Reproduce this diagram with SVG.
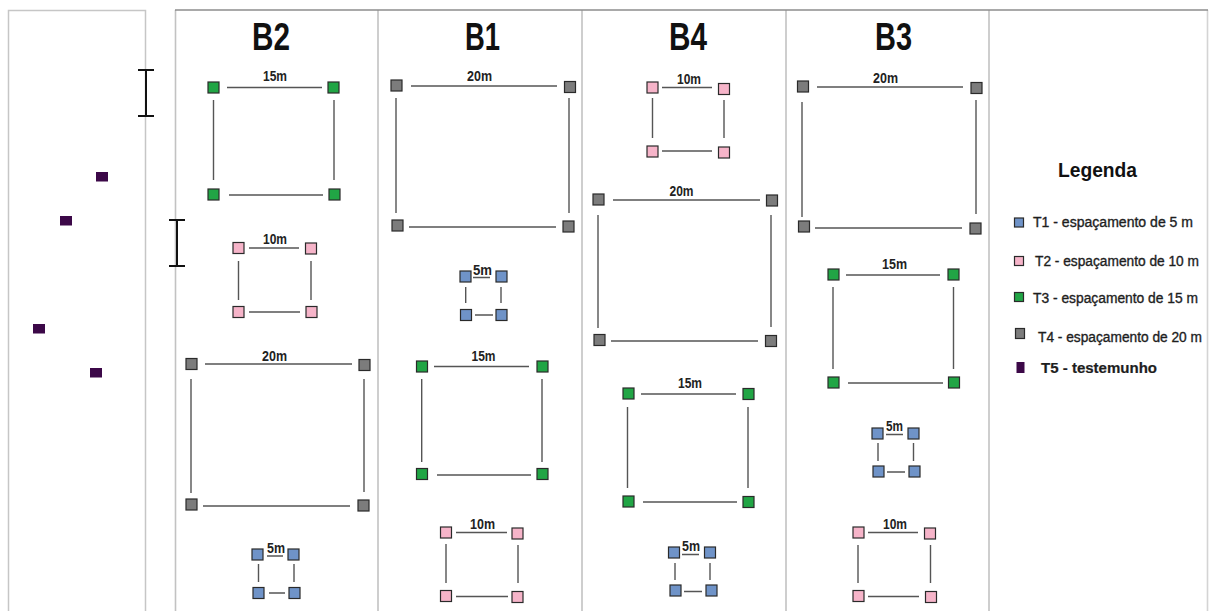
<svg xmlns="http://www.w3.org/2000/svg" width="1210" height="611" viewBox="0 0 1210 611">
<style>
.panel{fill:#ffffff;stroke:#c6c6c6;stroke-width:1.5}
.divider{stroke:#c2c2c2;stroke-width:1.6;fill:none}
.topb{stroke:#8c8c8c;stroke-width:1.6;fill:none}
.ibar{stroke:#111;stroke-width:2;fill:none}
.m{stroke:#2a2a2a;stroke-width:1.2}
.t1{fill:#6f93c8}
.t2{fill:#f6b4c9}
.t3{fill:#21a545}
.t4{fill:#7c7c7c}
.t5{fill:#3c0848;stroke:#3c0848}
.edge{stroke:#555;stroke-width:1.4;fill:none}
.title{font-family:"Liberation Sans",Arial,sans-serif;font-weight:bold;font-size:38px;fill:#111;text-anchor:middle}
.lab{font-family:"Liberation Sans",Arial,sans-serif;font-weight:bold;font-size:14px;fill:#222;text-anchor:middle}
.leg{font-family:"Liberation Sans",Arial,sans-serif;font-size:14px;fill:#1e1e1e;stroke:#1e1e1e;stroke-width:0.35}
.legh{font-family:"Liberation Sans",Arial,sans-serif;font-weight:bold;font-size:20px;fill:#111;text-anchor:middle}
</style>
<rect x="0" y="0" width="1210" height="611" fill="#ffffff"/>

<!-- panels -->
<g id="panels">
  <rect class="panel" x="8.5" y="10.5" width="137" height="700"/>
  <line class="divider" x1="175.5" y1="10" x2="175.5" y2="611"/>
  <line class="divider" x1="378" y1="10" x2="378" y2="611"/>
  <line class="divider" x1="582" y1="10" x2="582" y2="611"/>
  <line class="divider" x1="786" y1="10" x2="786" y2="611"/>
  <line class="divider" x1="989" y1="10" x2="989" y2="611"/>
  <line class="divider" x1="1207.5" y1="10" x2="1207.5" y2="611" style="stroke:#d4d4d4"/>
  <line class="topb" x1="175" y1="10" x2="1208" y2="10"/>
</g>

<!-- scale bars -->
<g id="scalebars">
  <path class="ibar" d="M146 70V116M138 70H154M138 116H154"/>
  <path class="ibar" d="M177 220V266M169 220H185M169 266H185"/>
</g>

<!-- witness points -->
<g id="T5-points">
  <rect class="t5" x="96.5" y="172.5" width="11" height="8.5"/>
  <rect class="t5" x="60.5" y="216.5" width="11" height="8.5"/>
  <rect class="t5" x="33.5" y="324.5" width="11" height="8.5"/>
  <rect class="t5" x="90.5" y="368.5" width="11" height="8.5"/>
</g>

<!-- titles -->
<g id="titles">
  <text class="title" x="271" y="50" textLength="38" lengthAdjust="spacingAndGlyphs">B2</text>
  <text class="title" x="482.5" y="50" textLength="35" lengthAdjust="spacingAndGlyphs">B1</text>
  <text class="title" x="688" y="50" textLength="38" lengthAdjust="spacingAndGlyphs">B4</text>
  <text class="title" x="893.5" y="50" textLength="37" lengthAdjust="spacingAndGlyphs">B3</text>
</g>

<!-- connectors -->
<g id="connectors">
  <path class="edge" d="M227 87.5H322M229 195H323M213.5 100V180M334 100V180"/>
  <path class="edge" d="M249 248H299M249 312H300M238.5 261V300M311 261V300"/>
  <path class="edge" d="M205 364H352M203 506H350M191 379V493M364 379V492"/>
  <path class="edge" d="M267 556H283M269 593H285M258.5 564V582M294 564V582"/>
  <path class="edge" d="M411 86H557M409 227H556M396 98V213M569 98V213"/>
  <path class="edge" d="M473 277.5H490M475 315H493M465.7 287V303M501 287V303"/>
  <path class="edge" d="M434 366.5H529M437 475H531M421.7 379V462M542 379V462"/>
  <path class="edge" d="M456 532.5H507M456 596.5H508M446 544V583M518 545V583"/>
  <path class="edge" d="M662 87.5H712M662 151H712M652.5 98V138M724 100V138"/>
  <path class="edge" d="M613 200H760M611 341H758M598 215V328M771 215V327"/>
  <path class="edge" d="M641 394H736M643 502H737M627.5 407V488M748 407V488"/>
  <path class="edge" d="M682 554.5H699M684 591.5H702M675 563V580M710 563V580"/>
  <path class="edge" d="M817 87H963M815 228H962M802 102V217M976 100V214"/>
  <path class="edge" d="M846 275H940M848 383H943M833 287V369M953.5 287V369"/>
  <path class="edge" d="M886 434.5H903M887 472H905M878 443V461M913.5 443V461"/>
  <path class="edge" d="M868 532.5H918M868 596.5H919M858 545V583M930.5 545V583"/>
</g>

<!-- B2 plots -->
<g id="B2-15m">
  <rect class="m t3" x="208" y="82" width="11" height="11"/>
  <rect class="m t3" x="328" y="82" width="11" height="11"/>
  <rect class="m t3" x="208" y="189" width="11" height="11"/>
  <rect class="m t3" x="329" y="189" width="11" height="11"/>
  <text class="lab" x="275" y="81" textLength="24" lengthAdjust="spacingAndGlyphs">15m</text>
</g>
<g id="B2-10m">
  <rect class="m t2" x="233" y="242.5" width="11" height="11"/>
  <rect class="m t2" x="305.5" y="243" width="11" height="11"/>
  <rect class="m t2" x="233" y="306.5" width="11" height="11"/>
  <rect class="m t2" x="306" y="306.5" width="11" height="11"/>
  <text class="lab" x="275" y="244" textLength="24" lengthAdjust="spacingAndGlyphs">10m</text>
</g>
<g id="B2-20m">
  <rect class="m t4" x="186" y="358.5" width="11" height="11"/>
  <rect class="m t4" x="359" y="359.5" width="11" height="11"/>
  <rect class="m t4" x="186" y="499" width="11" height="11"/>
  <rect class="m t4" x="358" y="500" width="11" height="11"/>
  <text class="lab" x="274.5" y="361" textLength="25" lengthAdjust="spacingAndGlyphs">20m</text>
</g>
<g id="B2-5m">
  <rect class="m t1" x="252" y="549" width="11" height="11"/>
  <rect class="m t1" x="288" y="549" width="11" height="11"/>
  <rect class="m t1" x="253" y="587.5" width="11" height="11"/>
  <rect class="m t1" x="289" y="587.5" width="11" height="11"/>
  <text class="lab" x="276" y="553" textLength="18" lengthAdjust="spacingAndGlyphs">5m</text>
</g>

<!-- B1 plots -->
<g id="B1-20m">
  <rect class="m t4" x="391" y="80" width="11" height="11"/>
  <rect class="m t4" x="564.5" y="81.5" width="11" height="11"/>
  <rect class="m t4" x="392" y="220" width="11" height="11"/>
  <rect class="m t4" x="563" y="221" width="11" height="11"/>
  <text class="lab" x="479.5" y="81" textLength="25" lengthAdjust="spacingAndGlyphs">20m</text>
</g>
<g id="B1-5m">
  <rect class="m t1" x="460" y="271" width="11" height="11"/>
  <rect class="m t1" x="496" y="271" width="11" height="11"/>
  <rect class="m t1" x="460.5" y="309.5" width="11" height="11"/>
  <rect class="m t1" x="496" y="309.5" width="11" height="11"/>
  <text class="lab" x="482.5" y="275" textLength="19" lengthAdjust="spacingAndGlyphs">5m</text>
</g>
<g id="B1-15m">
  <rect class="m t3" x="416.5" y="361" width="11" height="11"/>
  <rect class="m t3" x="537" y="361" width="11" height="11"/>
  <rect class="m t3" x="416.5" y="468.5" width="11" height="11"/>
  <rect class="m t3" x="537" y="468.5" width="11" height="11"/>
  <text class="lab" x="483.5" y="361" textLength="24" lengthAdjust="spacingAndGlyphs">15m</text>
</g>
<g id="B1-10m">
  <rect class="m t2" x="440.5" y="527" width="11" height="11"/>
  <rect class="m t2" x="512" y="528" width="11" height="11"/>
  <rect class="m t2" x="440.5" y="590.5" width="11" height="11"/>
  <rect class="m t2" x="512" y="591.5" width="11" height="11"/>
  <text class="lab" x="482.5" y="529" textLength="25" lengthAdjust="spacingAndGlyphs">10m</text>
</g>

<!-- B4 plots -->
<g id="B4-10m">
  <rect class="m t2" x="647" y="82" width="11" height="11"/>
  <rect class="m t2" x="718.5" y="83.5" width="11" height="11"/>
  <rect class="m t2" x="647" y="146" width="11" height="11"/>
  <rect class="m t2" x="718.5" y="147" width="11" height="11"/>
  <text class="lab" x="689" y="84" textLength="24" lengthAdjust="spacingAndGlyphs">10m</text>
</g>
<g id="B4-20m">
  <rect class="m t4" x="593" y="194" width="11" height="11"/>
  <rect class="m t4" x="766.5" y="195" width="11" height="11"/>
  <rect class="m t4" x="594" y="334.5" width="11" height="11"/>
  <rect class="m t4" x="765.5" y="335.5" width="11" height="11"/>
  <text class="lab" x="681.5" y="196" textLength="24" lengthAdjust="spacingAndGlyphs">20m</text>
</g>
<g id="B4-15m">
  <rect class="m t3" x="623" y="388" width="11" height="11"/>
  <rect class="m t3" x="743" y="388.5" width="11" height="11"/>
  <rect class="m t3" x="623" y="496" width="11" height="11"/>
  <rect class="m t3" x="743" y="496.5" width="11" height="11"/>
  <text class="lab" x="690" y="388" textLength="24" lengthAdjust="spacingAndGlyphs">15m</text>
</g>
<g id="B4-5m">
  <rect class="m t1" x="668.5" y="547" width="11" height="11"/>
  <rect class="m t1" x="704.5" y="547" width="11" height="11"/>
  <rect class="m t1" x="670" y="585" width="11" height="11"/>
  <rect class="m t1" x="706" y="585" width="11" height="11"/>
  <text class="lab" x="691" y="551" textLength="18" lengthAdjust="spacingAndGlyphs">5m</text>
</g>

<!-- B3 plots -->
<g id="B3-20m">
  <rect class="m t4" x="797.5" y="81" width="11" height="11"/>
  <rect class="m t4" x="971" y="82.5" width="11" height="11"/>
  <rect class="m t4" x="798.5" y="221" width="11" height="11"/>
  <rect class="m t4" x="970" y="223" width="11" height="11"/>
  <text class="lab" x="885.5" y="83" textLength="25" lengthAdjust="spacingAndGlyphs">20m</text>
</g>
<g id="B3-15m">
  <rect class="m t3" x="828" y="269" width="11" height="11"/>
  <rect class="m t3" x="948" y="269" width="11" height="11"/>
  <rect class="m t3" x="828" y="377" width="11" height="11"/>
  <rect class="m t3" x="948.5" y="377" width="11" height="11"/>
  <text class="lab" x="894.5" y="269" textLength="25" lengthAdjust="spacingAndGlyphs">15m</text>
</g>
<g id="B3-5m">
  <rect class="m t1" x="872" y="428" width="11" height="11"/>
  <rect class="m t1" x="908" y="428" width="11" height="11"/>
  <rect class="m t1" x="873" y="466" width="11" height="11"/>
  <rect class="m t1" x="909" y="466" width="11" height="11"/>
  <text class="lab" x="894.5" y="431" textLength="17" lengthAdjust="spacingAndGlyphs">5m</text>
</g>
<g id="B3-10m">
  <rect class="m t2" x="853" y="527" width="11" height="11"/>
  <rect class="m t2" x="924.5" y="528" width="11" height="11"/>
  <rect class="m t2" x="853" y="590.5" width="11" height="11"/>
  <rect class="m t2" x="925.5" y="591.5" width="11" height="11"/>
  <text class="lab" x="895" y="529" textLength="24" lengthAdjust="spacingAndGlyphs">10m</text>
</g>

<!-- legend -->
<g id="legend">
  <text class="legh" x="1097.5" y="177" textLength="79" lengthAdjust="spacingAndGlyphs">Legenda</text>
  <rect class="m t1" x="1014.5" y="218" width="9" height="9"/>
  <text class="leg" x="1033" y="227" textLength="160" lengthAdjust="spacingAndGlyphs">T1 - espaçamento de 5 m</text>
  <rect class="m t2" x="1014.5" y="256.5" width="9" height="9"/>
  <text class="leg" x="1035" y="266" textLength="164" lengthAdjust="spacingAndGlyphs">T2 - espaçamento de 10 m</text>
  <rect class="m t3" x="1014.5" y="292.5" width="9" height="9"/>
  <text class="leg" x="1033" y="303" textLength="165" lengthAdjust="spacingAndGlyphs">T3 - espaçamento de 15 m</text>
  <rect class="m t4" x="1015.5" y="328.5" width="9" height="10"/>
  <text class="leg" x="1038" y="342" textLength="164" lengthAdjust="spacingAndGlyphs">T4 - espaçamento de 20 m</text>
  <rect class="t5" x="1017" y="362.5" width="7" height="10"/>
  <text class="leg" x="1041" y="373" style="font-weight:bold;stroke-width:0.2" textLength="116" lengthAdjust="spacingAndGlyphs">T5 - testemunho</text>
</g>
</svg>
